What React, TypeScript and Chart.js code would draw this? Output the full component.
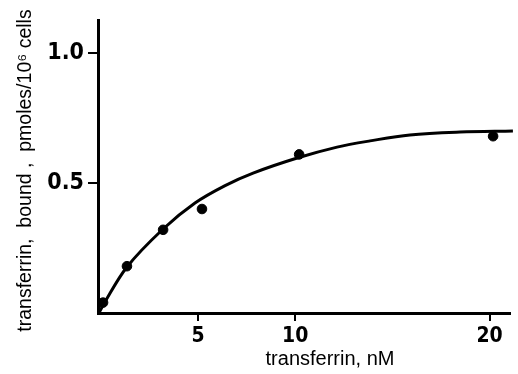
import React, { useEffect, useRef } from "react";
import { Chart, registerables } from "chart.js";

Chart.register(...registerables);

// measured points: transferrin (nM) vs bound (pmoles/10^6 cells)
const pointX = [0.11, 1.34, 3.2, 5.2, 10.2, 20.18];
const pointY = [0.04, 0.18, 0.32, 0.4, 0.61, 0.68];

// fitted curve
const curveX = [-0.1, 0.15, 1.34, 3.2, 4.84, 6.39, 7.83, 10.1, 12.15, 13.85, 15.9, 18.48, 21.2];
const curveY = [0, 0.035, 0.177, 0.323, 0.423, 0.49, 0.538, 0.596, 0.638, 0.662, 0.685, 0.696, 0.7];

const xTicks = [5, 10, 20];
const yTicks = [0.5, 1.0];
const yTickLabels = ["0.5", "1.0"];

const xTitle = "transferrin, nM";
const yTitle = "transferrin,  bound ,  pmoles/10\u2076 cells";

const TICK_FONT = "'Liberation Sans Narrow', 'DejaVu Sans Condensed', 'Liberation Sans', sans-serif";
const TEXT_FONT = "'Liberation Sans', Arial, sans-serif";

export default function App() {
  const ref = useRef<HTMLCanvasElement | null>(null);

  useEffect(() => {
    document.body.style.margin = "0";
    const canvas = ref.current;
    if (!canvas) return;

    const titlePlugin = {
      id: "titlePlugin",
      afterDraw(chart: any) {
        const ctx = chart.ctx;
        const area = chart.chartArea;
        ctx.save();
        ctx.fillStyle = "#000";
        ctx.textAlign = "center";
        ctx.textBaseline = "middle";
        ctx.font = `20px ${TEXT_FONT}`;
        ctx.fillText(xTitle, (area.left + area.right) / 2 + 26, 359);
        ctx.font = `19.5px ${TEXT_FONT}`;
        ctx.translate(26, (area.top + area.bottom) / 2 + 4);
        ctx.rotate(-Math.PI / 2);
        ctx.fillText(yTitle, 0, 0);
        ctx.restore();
      },
    };

    const chart = new Chart(canvas, {
      type: "scatter",
      data: {
        datasets: [
          {
            type: "line",
            data: curveX.map((x, i) => ({ x, y: curveY[i] })),
            borderColor: "#000",
            borderWidth: 3,
            pointRadius: 0,
            tension: 0.35,
            fill: false,
            clip: false as any,
          },
          {
            type: "scatter",
            data: pointX.map((x, i) => ({ x, y: pointY[i] })),
            backgroundColor: "#000",
            borderColor: "#000",
            pointRadius: 4.8,
            pointHoverRadius: 4.8,
          },
        ],
      },
      options: {
        responsive: false,
        animation: false,
        layout: { padding: { top: 20, right: 8, left: 0, bottom: 0 } },
        plugins: { legend: { display: false }, tooltip: { enabled: false } },
        scales: {
          x: {
            type: "linear",
            min: -0.15,
            max: 21.05,
            afterFit: (s: any) => {
              s.height = 61;
            },
            afterBuildTicks: (s: any) => {
              s.ticks = xTicks.map((v) => ({ value: v }));
            },
            border: { display: true, color: "#000", width: 3 },
            grid: {
              drawOnChartArea: false,
              drawTicks: true,
              tickLength: 8,
              color: "#000",
              lineWidth: 2,
            },
            ticks: {
              color: "#000",
              padding: 3,
              maxRotation: 0,
              font: { family: TICK_FONT, size: 21, weight: "bold" },
              callback: (v: any) => String(v),
            },
          },
          y: {
            type: "linear",
            min: 0,
            max: 1.127,
            afterFit: (s: any) => {
              s.width = 98;
            },
            afterBuildTicks: (s: any) => {
              s.ticks = yTicks.map((v) => ({ value: v }));
            },
            border: { display: true, color: "#000", width: 3 },
            grid: {
              drawOnChartArea: false,
              drawTicks: true,
              tickLength: 10,
              color: "#000",
              lineWidth: 2,
            },
            ticks: {
              color: "#000",
              padding: 4,
              font: { family: TICK_FONT, size: 23, weight: "bold" },
              callback: (v: any) => {
                const i = yTicks.indexOf(Number(v));
                return i >= 0 ? yTickLabels[i] : "";
              },
            },
          },
        },
      },
      plugins: [titlePlugin],
    } as any);

    return () => chart.destroy();
  }, []);

  return (
    <div style={{ width: 518, height: 374 }}>
      <canvas ref={ref} width={518} height={374} />
    </div>
  );
}
